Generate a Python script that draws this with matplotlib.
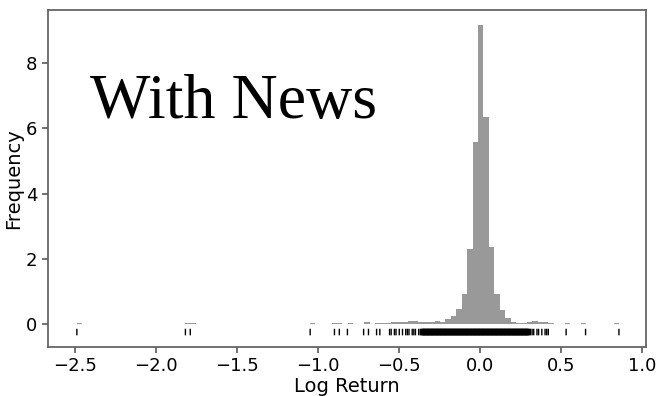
import matplotlib
matplotlib.use("Agg")
import matplotlib.pyplot as plt
import numpy as np

# histogram of log returns (density), 100 bins between min and max return
ret_min = -2.49
ret_max = 0.856
n_bins = 100
density = [
    0.03, 0, 0, 0, 0, 0, 0, 0, 0, 0,
    0, 0, 0, 0, 0, 0, 0, 0, 0, 0,
    0.03, 0.03, 0, 0, 0, 0, 0, 0, 0, 0,
    0, 0, 0, 0, 0, 0, 0, 0, 0, 0,
    0, 0, 0, 0.03, 0, 0, 0, 0.03, 0.03, 0,
    0.03, 0, 0, 0.06, 0, 0.03, 0.03, 0.03, 0.06, 0.06,
    0.06, 0.09, 0.09, 0.06, 0.06, 0.06, 0.09, 0.06, 0.155, 0.25,
    0.46, 0.93, 2.30, 5.57, 9.16, 6.36, 2.36, 0.93, 0.44, 0.18,
    0.08, 0.05, 0.03, 0.06, 0.09, 0.06, 0.06, 0.03, 0, 0,
    0.03, 0, 0, 0.03, 0, 0, 0, 0, 0, 0.03,
]

# individual observations shown as a rug
rug_sparse = [-2.49, -1.82, -1.79, -1.05, -0.90, -0.87, -0.82, -0.72, -0.69,
              -0.64, -0.62, -0.56, -0.55, -0.53, -0.52, -0.50, -0.48, -0.46,
              -0.45, -0.44, -0.42, -0.41, -0.40, -0.38, -0.37,
              0.31, 0.32, 0.33, 0.35, 0.36, 0.38, 0.40, 0.41, 0.42,
              0.53, 0.65, 0.856]
rug_dense = [
    -0.36, -0.355, -0.35, -0.345, -0.34, -0.335, -0.33, -0.325, -0.32, -0.315,
    -0.31, -0.305, -0.30, -0.295, -0.29, -0.285, -0.28, -0.275, -0.27, -0.265,
    -0.26, -0.255, -0.25, -0.245, -0.24, -0.235, -0.23, -0.225, -0.22, -0.215,
    -0.21, -0.205, -0.20, -0.195, -0.19, -0.185, -0.18, -0.175, -0.17, -0.165,
    -0.16, -0.155, -0.15, -0.145, -0.14, -0.135, -0.13, -0.125, -0.12, -0.115,
    -0.11, -0.105, -0.10, -0.095, -0.09, -0.085, -0.08, -0.075, -0.07, -0.065,
    -0.06, -0.055, -0.05, -0.045, -0.04, -0.035, -0.03, -0.025, -0.02, -0.015,
    -0.01, -0.005, 0.0, 0.005, 0.01, 0.015, 0.02, 0.025, 0.03, 0.035,
    0.04, 0.045, 0.05, 0.055, 0.06, 0.065, 0.07, 0.075, 0.08, 0.085,
    0.09, 0.095, 0.10, 0.105, 0.11, 0.115, 0.12, 0.125, 0.13, 0.135,
    0.14, 0.145, 0.15, 0.155, 0.16, 0.165, 0.17, 0.175, 0.18, 0.185,
    0.19, 0.195, 0.20, 0.205, 0.21, 0.215, 0.22, 0.225, 0.23, 0.235,
    0.24, 0.245, 0.25, 0.255, 0.26, 0.265, 0.27, 0.275, 0.28, 0.285,
    0.29, 0.295, 0.30,
]
rug_level = -0.24

xticks = [-2.5, -2.0, -1.5, -1.0, -0.5, 0.0, 0.5, 1.0]
yticks = [0, 2, 4, 6, 8]


def main():
    fig = plt.figure(figsize=(6.58, 3.96), dpi=100)
    ax = fig.add_axes([0.073, 0.124, 0.909, 0.852])

    edges = np.linspace(ret_min, ret_max, n_bins + 1)
    ax.hist(edges[:-1], bins=edges, weights=density, color="#999999")

    ax.vlines(rug_sparse, rug_level - 0.1, rug_level + 0.1, color="k",
              linewidth=1.0, snap=False)
    ax.vlines(rug_dense, rug_level - 0.1, rug_level + 0.1, color="k",
              linewidth=2.0, snap=False)

    ax.set_xlim(-2.668, 1.024)
    ax.set_ylim(-0.695, 9.64)
    ax.set_xticks(xticks)
    ax.set_yticks(yticks)
    ax.tick_params(labelsize=13, color="0.35", width=1.2, length=4)
    for s in ax.spines.values():
        s.set_color("0.4")
        s.set_linewidth(1.3)
    ax.set_xlabel("Log Return", fontsize=14, labelpad=1)
    ax.set_ylabel("Frequency", fontsize=14, labelpad=2)

    fig.text(90 / 658, 1 - 118 / 396, "With News", family="Liberation Serif",
             fontsize=46, va="baseline", ha="left")

    fig.savefig("out.png", dpi=100)


if __name__ == "__main__":
    main()
